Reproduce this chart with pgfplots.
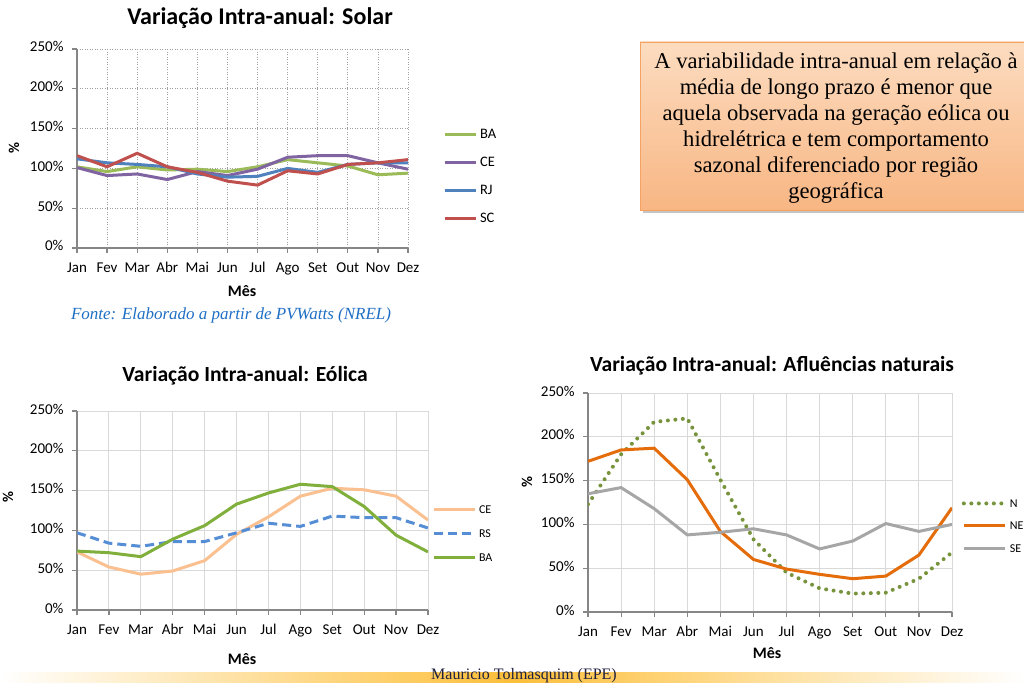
\documentclass[border=0pt]{standalone}
\usepackage{pgfplots}
\usepackage{pgfplotstable}
\pgfplotsset{compat=1.18}
\usepackage{fontspec}
\setmainfont{Carlito}
\newfontfamily\cambria{Liberation Serif}
\usetikzlibrary{shadows}

\definecolor{axgray}{HTML}{868686}
\definecolor{gridgray}{HTML}{D9D9D9}
\definecolor{dotgray}{HTML}{A0A0A0}
\definecolor{sBA}{HTML}{9BBB59}
\definecolor{sCE}{HTML}{8064A2}
\definecolor{sRJ}{HTML}{4F81BD}
\definecolor{sSC}{HTML}{C0504D}
\definecolor{eCE}{HTML}{FAC090}
\definecolor{eRS}{HTML}{558ED5}
\definecolor{eBA}{HTML}{80AF3C}
\definecolor{aN}{HTML}{77933C}
\definecolor{aNE}{HTML}{E46C0A}
\definecolor{aSE}{HTML}{A6A6A6}
\definecolor{fonteblue}{HTML}{1F6FC5}
\definecolor{boxtop}{HTML}{FCDCC0}
\definecolor{boxbot}{HTML}{F8B683}
\definecolor{boxline}{HTML}{F5A262}
\definecolor{footorange}{HTML}{FDBF3A}
\definecolor{footnavy}{HTML}{1F1F40}

% solar: month index, BA, CE, RJ, SC
\pgfplotstableread{
m BA CE RJ SC
0 102 101 112 116
1 96 91 107 102
2 102 93 105 119
3 98 86 102 102
4 99 96 93 95
5 96 91 89 84
6 102 99 90 79
7 111 114 100 97
8 107 116 95 93
9 103 116 105 105
10 92 107 107 107
11 94 99 107 111
}\solar

% eolica
\pgfplotstableread{
m CE RS BA
0 73 97 74
1 54 84 72
2 45 80 67
3 49 86 89
4 62 86 106
5 95 97 133
6 117 109 147
7 143 105 158
8 153 118 155
9 151 116 130
10 143 116 94
11 113 103 73
}\eolica

% afluencias naturais
\pgfplotstableread{
m N NE SE
0 123 172 135
1 180 185 142
2 217 187 118
3 221 151 88
4 151 92 91
5 83 60 95
6 45 49 88
7 27 43 72
8 21 38 81
9 22 41 101
10 38 65 92
11 68 119 100
}\aflu

\newcommand\tickfont{\fontsize{15}{15}\selectfont}

\pgfplotsset{
  /pgf/number format/assume math mode=true,
  excel/.style={
    scale only axis,
    xmin=0, xmax=11, ymin=0, ymax=250,
    xtick={0,...,11},
    xticklabels={Jan,Fev,Mar,Abr,Mai,Jun,Jul,Ago,Set,Out,Nov,Dez},
    ytick={0,50,...,250},
    yticklabels={0\%,50\%,100\%,150\%,200\%,250\%},
    axis x line*=bottom, axis y line*=left,
    axis line style={draw=axgray, line width=1.2pt, -},
    tick align=outside, major tick length=5pt,
    tick style={draw=axgray, line width=1.2pt},
    typeset ticklabels with strut,
    xticklabel style={font=\tickfont, yshift=-5pt},
    yticklabel style={font=\tickfont, xshift=-5pt},
    grid=major,
    legend cell align=left,
    legend style={draw=none, fill=none, inner sep=0pt, outer sep=0pt,
      column sep=3pt, anchor=west,
      nodes={inner sep=0pt, text height=8pt, text depth=0pt}},
  },
}

\begin{document}
\begin{tikzpicture}[x=1pt,y=1pt]
\fill[white] (0,0) rectangle (1024,686);
\begin{scope}
\clip (0,0) rectangle (1024,686);

% ---- Solar ----
\begin{axis}[excel, at={(77pt,438pt)}, anchor=south west, width=331pt, height=199pt,
  major grid style={draw=dotgray, line width=0.8pt, dash pattern=on 1pt off 1.5pt},
  legend style={at={(1.106,0.357)}, row sep=20pt, font=\fontsize{14.5}{14.5}\selectfont},
  legend image code/.code={\draw[#1] (0pt,0pt) -- (31pt,0pt);}]
\addplot[sBA, line width=3pt] table[x=m,y=BA] {\solar};
\addlegendentry{BA}
\addplot[sCE, line width=3pt] table[x=m,y=CE] {\solar};
\addlegendentry{CE}
\addplot[sRJ, line width=3pt] table[x=m,y=RJ] {\solar};
\addlegendentry{RJ}
\addplot[sSC, line width=3pt] table[x=m,y=SC] {\solar};
\addlegendentry{SC}
\end{axis}
\node[font=\bfseries\fontsize{24}{24}\selectfont] at (260,668) {Variação Intra-anual: Solar};
\node[font=\bfseries\fontsize{16}{16}\selectfont] at (242,395) {Mês};
\node[font=\bfseries\fontsize{15}{15}\selectfont, rotate=90] at (14,538) {\%};
\node[font=\cambria\itshape\fontsize{17}{17}\selectfont, text=fonteblue] at (231,371)
  {Fonte: Elaborado a partir de PVWatts (NREL)};

% ---- Eolica ----
\begin{axis}[excel, at={(77pt,76pt)}, anchor=south west, width=351pt, height=199pt,
  major grid style={draw=gridgray, line width=0.9pt},
  legend style={at={(1.0114,0.382)}, row sep=16pt, font=\fontsize{12}{12}\selectfont},
  legend image code/.code={\draw[#1] (0pt,0pt) -- (41pt,0pt);}]
\addplot[eCE, line width=3pt] table[x=m,y=CE] {\eolica};
\addlegendentry{CE}
\addplot[eRS, line width=3pt, dash pattern=on 9pt off 5pt] table[x=m,y=RS] {\eolica};
\addlegendentry{RS}
\addplot[eBA, line width=3pt] table[x=m,y=BA] {\eolica};
\addlegendentry{BA}
\end{axis}
\node[font=\bfseries\fontsize{21.6}{22}\selectfont] at (245,310) {Variação Intra-anual: Eólica};
\node[font=\bfseries\fontsize{16}{16}\selectfont] at (242,27) {Mês};
\node[font=\bfseries\fontsize{15}{15}\selectfont, rotate=90] at (8,189) {\%};

% ---- Afluencias ----
\begin{axis}[excel, at={(588pt,74pt)}, anchor=south west, width=364pt, height=219pt,
  major grid style={draw=gridgray, line width=0.9pt},
  legend style={at={(1.027,0.393)}, row sep=14.5pt, font=\fontsize{12}{12}\selectfont},
  legend image code/.code={\draw[#1] (0pt,0pt) -- (41pt,0pt);}]
\addplot[aN, line width=4pt, line cap=round, dash pattern=on 0pt off 7.5pt] table[x=m,y=N] {\aflu};
\addlegendentry{N}
\addplot[aNE, line width=3pt] table[x=m,y=NE] {\aflu};
\addlegendentry{NE}
\addplot[aSE, line width=3pt] table[x=m,y=SE] {\aflu};
\addlegendentry{SE}
\end{axis}
\node[font=\bfseries\fontsize{21.6}{22}\selectfont] at (772,320) {Variação Intra-anual: Afluências naturais};
\node[font=\bfseries\fontsize{16}{16}\selectfont] at (767,33) {Mês};
\node[font=\bfseries\fontsize{15}{15}\selectfont, rotate=90] at (527,204) {\%};

% ---- text box ----
\path[draw=boxline, line width=0.8pt, top color=boxtop, bottom color=boxbot,
  drop shadow={shadow xshift=3pt, shadow yshift=-3pt, opacity=0.45}]
  (640,476) rectangle (1034,644);
\node[align=center, anchor=north, inner sep=0pt, font=\cambria\fontsize{22.6}{26}\selectfont]
  at (836,633) {A variabilidade intra-anual em relação à\\
  média de longo prazo é menor que\\
  aquela observada na geração eólica ou\\
  hidrelétrica e tem comportamento\\
  sazonal diferenciado por região\\
  geográfica};

% ---- footer ----
\shade[left color=white, right color=white, middle color=footorange] (0,4) rectangle (1024,14);
\node[font=\cambria\fontsize{16}{16}\selectfont, text=footnavy] at (524,10) {Mauricio Tolmasquim (EPE)};
\end{scope}
\pgfresetboundingbox
\path[use as bounding box] (0,0) rectangle (1024,686);
\end{tikzpicture}
\end{document}
